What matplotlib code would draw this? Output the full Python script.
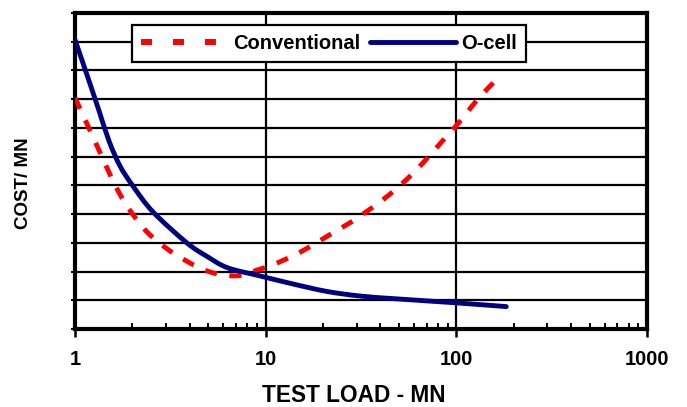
import matplotlib
matplotlib.use("Agg")
import numpy as np
import matplotlib.pyplot as plt
from matplotlib.lines import Line2D
from matplotlib.path import Path
from matplotlib.patches import PathPatch
from matplotlib.ticker import LogLocator, NullFormatter, FixedLocator

plt.rcParams['font.family'] = ['Liberation Sans', 'DejaVu Sans']

conv_x = [1.0, 1.156, 1.304, 1.471, 1.620, 1.827, 2.112, 2.470, 3.144, 3.766, 4.406,
          5.09, 5.955, 7.31, 9.08, 10.5, 13.36, 16.6, 21.63, 27.54, 32.98, 40.49, 50.3,
          60.27, 72.2, 86.5, 106.2, 127.3, 158.1]
conv_y = [8.05, 7.14, 6.38, 5.61, 5.02, 4.39, 3.80, 3.28, 2.72, 2.40, 2.16,
          1.99, 1.88, 1.86, 2.06, 2.20, 2.49, 2.82, 3.28, 3.69, 4.04, 4.46, 4.98,
          5.47, 6.03, 6.62, 7.28, 7.94, 8.61]

ocell_x = [1.0, 1.184, 1.336, 1.507, 1.720, 2.012, 2.561, 3.858, 4.971, 6.324, 9.303,
           13.85, 20.86, 31.05, 48.5, 100, 182.7]
ocell_y = [10.07, 8.64, 7.60, 6.55, 5.68, 4.98, 4.08, 3.00, 2.51, 2.13, 1.85,
           1.57, 1.31, 1.15, 1.05, 0.91, 0.78]

x_ticks = [1, 10, 100, 1000]
x_tick_labels = ["1", "10", "100", "1000"]
series_names = ["Conventional", "O-cell"]

RED = '#ff0000'
BLUE = '#000080'


def smooth_path(xs, ys):
    """Smoothed (Catmull-Rom as cubic Bezier) path through the data points,
    built in log-x space like a spreadsheet 'smoothed line'."""
    P = np.column_stack([np.log10(xs), np.asarray(ys, float)])
    n = len(P)
    verts = [P[0]]
    codes = [Path.MOVETO]
    for i in range(n - 1):
        p0 = P[i - 1] if i > 0 else P[i]
        p1, p2 = P[i], P[i + 1]
        p3 = P[i + 2] if i + 2 < n else P[i + 1]
        verts += [p1 + (p2 - p0) / 6.0, p2 - (p3 - p1) / 6.0, p2]
        codes += [Path.CURVE4] * 3
    V = np.array(verts)
    V[:, 0] = 10 ** V[:, 0]
    return Path(V, codes)


fig = plt.figure(figsize=(6.87, 4.07), dpi=100)
ax = fig.add_axes([75/687, 78/407, 572/687, 316/407])

ax.set_xscale('log')
ax.set_xlim(1, 1000)
ax.set_ylim(0, 11)

for yv in range(1, 11):
    ax.axhline(yv, color='black', lw=1.6, zorder=1)
for xv in [10, 100]:
    ax.axvline(xv, color='black', lw=1.6, zorder=1)

ax.add_patch(PathPatch(smooth_path(conv_x, conv_y), facecolor='none', edgecolor=RED,
                       lw=3.5, linestyle=(0, (2.5, 2.6)), capstyle='butt',
                       joinstyle='round', transform=ax.transData, zorder=3))
ax.add_patch(PathPatch(smooth_path(ocell_x, ocell_y), facecolor='none', edgecolor=BLUE,
                       lw=3.5, capstyle='round', joinstyle='round',
                       transform=ax.transData, zorder=4))

ax.xaxis.set_major_locator(FixedLocator(x_ticks))
ax.set_xticklabels(x_tick_labels, fontsize=14.5, fontweight='bold')
ax.xaxis.set_minor_locator(LogLocator(base=10, subs=range(2, 10)))
ax.xaxis.set_minor_formatter(NullFormatter())
ax.tick_params(axis='x', which='major', direction='out', length=6, width=1.8, pad=9)
ax.tick_params(axis='x', which='minor', direction='in', length=4, width=1.4)
ax.yaxis.set_major_locator(FixedLocator(range(0, 12)))
ax.set_yticklabels([])
ax.tick_params(axis='y', which='major', direction='out', length=3, width=1.4)

for s in ax.spines.values():
    s.set_linewidth(3)
    s.set_color('black')

fig.text(354/687, 1 - 396/407, 'TEST LOAD - MN', fontsize=16.3, fontweight='bold',
         ha='center', va='center')
fig.text(24/687, 1 - 183/407, 'COST/ MN', fontsize=13.5, fontweight='bold',
         ha='center', va='center', rotation=90)

handles = [Line2D([], [], color=RED, lw=4.3, dashes=(1.85, 3.5), dash_capstyle='butt'),
           Line2D([], [], color=BLUE, lw=3.5, solid_capstyle='round')]
leg = ax.legend(handles, series_names, loc='upper left',
                bbox_to_anchor=(57/572, 1 - 12/316), ncol=2,
                fancybox=False, framealpha=1, edgecolor='black',
                prop={'family': 'Liberation Sans', 'weight': 'bold', 'size': 14.5},
                handlelength=4.3, columnspacing=0.5, handletextpad=0.25,
                borderpad=0.45, borderaxespad=0)
leg.get_frame().set_linewidth(1.6)
leg.set_zorder(5)

fig.savefig('out.png', dpi=100)
